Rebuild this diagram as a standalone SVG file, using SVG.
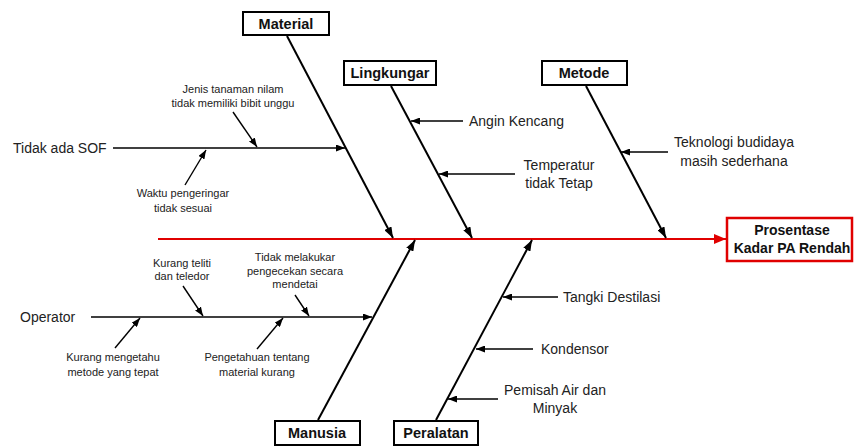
<svg xmlns="http://www.w3.org/2000/svg" width="859" height="446" viewBox="0 0 859 446">
<style>
.box{fill:#fff;stroke:#000;stroke-width:2}
.effect{fill:#fff;stroke:#e00000;stroke-width:2.5}
.bt{font-family:"Liberation Sans",Arial,sans-serif;font-weight:bold;font-size:14px;fill:#111;text-anchor:middle}
.lt{font-size:14.5px}
.mt{font-family:"Liberation Sans",Arial,sans-serif;font-size:14px;fill:#222}
.st{font-family:"Liberation Sans",Arial,sans-serif;font-size:11px;fill:#222;text-anchor:middle}
.bone{stroke:#000;stroke-width:2;fill:none}
.rib{stroke:#000;stroke-width:1.4;fill:none}
.spine{stroke:#e00000;stroke-width:2.2;fill:none}
</style>
<defs>
<marker id="ah" markerUnits="userSpaceOnUse" markerWidth="11" markerHeight="8" refX="11" refY="4" orient="auto">
<path d="M0,0 L11,4 L0,8 z" fill="#000"/>
</marker>
<marker id="ahs" markerUnits="userSpaceOnUse" markerWidth="9" markerHeight="7" refX="9" refY="3.5" orient="auto">
<path d="M0,0 L9,3.5 L0,7 z" fill="#000"/>
</marker>
<marker id="ahr" markerUnits="userSpaceOnUse" markerWidth="12" markerHeight="10" refX="12" refY="5" orient="auto">
<path d="M0,0 L12,5 L0,10 z" fill="#e00000"/>
</marker>
</defs>
<g id="connectors">
<line class="spine" x1="158" y1="239" x2="726" y2="239" marker-end="url(#ahr)"/>
<line class="bone" x1="287" y1="36" x2="393" y2="238" marker-end="url(#ah)"/>
<line class="bone" x1="391" y1="86" x2="472" y2="238" marker-end="url(#ah)"/>
<line class="bone" x1="586" y1="86" x2="666" y2="238" marker-end="url(#ah)"/>
<line class="bone" x1="318" y1="420" x2="415" y2="240" marker-end="url(#ah)"/>
<line class="bone" x1="436" y1="420" x2="532" y2="240" marker-end="url(#ah)"/>
<line class="rib" x1="113" y1="148" x2="345" y2="148" marker-end="url(#ahs)"/>
<line class="rib" x1="233" y1="112" x2="257" y2="147" marker-end="url(#ahs)"/>
<line class="rib" x1="185" y1="185" x2="206" y2="150" marker-end="url(#ahs)"/>
<line class="rib" x1="463" y1="121" x2="411" y2="121" marker-end="url(#ahs)"/>
<line class="rib" x1="515" y1="174" x2="439" y2="174" marker-end="url(#ahs)"/>
<line class="rib" x1="668" y1="152" x2="621" y2="152" marker-end="url(#ahs)"/>
<line class="rib" x1="91" y1="317" x2="372" y2="317" marker-end="url(#ahs)"/>
<line class="rib" x1="183" y1="286" x2="203" y2="316" marker-end="url(#ahs)"/>
<line class="rib" x1="295" y1="295" x2="309" y2="316" marker-end="url(#ahs)"/>
<line class="rib" x1="115" y1="348" x2="140" y2="318" marker-end="url(#ahs)"/>
<line class="rib" x1="257" y1="349" x2="283" y2="318" marker-end="url(#ahs)"/>
<line class="rib" x1="558" y1="297" x2="503" y2="297" marker-end="url(#ahs)"/>
<line class="rib" x1="533" y1="349" x2="476" y2="349" marker-end="url(#ahs)"/>
<line class="rib" x1="498" y1="399" x2="448" y2="399" marker-end="url(#ahs)"/>
</g>
<g id="effect">
<rect class="effect" x="727" y="218" width="125" height="43"/>
<text class="bt" x="792" y="235">Prosentase</text>
<text class="bt" x="792" y="253">Kadar PA Rendah</text>
</g>
<g id="material">
<rect class="box" x="243" y="12" width="86" height="23"/>
<text class="bt lt" x="286" y="28.5">Material</text>
</g>
<g id="lingkungan">
<rect class="box" x="344" y="61" width="92" height="24"/>
<text class="bt lt" x="390" y="78">Lingkungar</text>
</g>
<g id="metode">
<rect class="box" x="542" y="61" width="85" height="24"/>
<text class="bt lt" x="584" y="78">Metode</text>
</g>
<g id="manusia">
<rect class="box" x="275" y="421" width="85" height="24"/>
<text class="bt lt" x="317" y="438">Manusia</text>
</g>
<g id="peralatan">
<rect class="box" x="394" y="421" width="84" height="24"/>
<text class="bt lt" x="436" y="438">Peralatan</text>
</g>
<g id="cause-sof"><text class="mt" x="13" y="153">Tidak ada SOF</text></g>
<g id="cause-jenis">
<text class="st" x="233" y="93">Jenis tanaman nilam</text>
<text class="st" x="233" y="107">tidak memiliki bibit unggu</text>
</g>
<g id="cause-waktu">
<text class="st" x="183" y="197">Waktu pengeringar</text>
<text class="st" x="183" y="212">tidak sesuai</text>
</g>
<g id="cause-angin"><text class="mt" x="469" y="126">Angin Kencang</text></g>
<g id="cause-temperatur">
<text class="mt" x="559" y="170" text-anchor="middle">Temperatur</text>
<text class="mt" x="559" y="188" text-anchor="middle">tidak Tetap</text>
</g>
<g id="cause-teknologi">
<text class="mt" x="734" y="147" text-anchor="middle">Teknologi budidaya</text>
<text class="mt" x="734" y="166" text-anchor="middle">masih sederhana</text>
</g>
<g id="cause-operator"><text class="mt" x="20" y="322">Operator</text></g>
<g id="cause-teliti">
<text class="st" x="182" y="267">Kurang teliti</text>
<text class="st" x="182" y="280">dan teledor</text>
</g>
<g id="cause-pengecekan">
<text class="st" x="295" y="261">Tidak melakukar</text>
<text class="st" x="295" y="275">pengecekan secara</text>
<text class="st" x="295" y="288">mendetai</text>
</g>
<g id="cause-metode">
<text class="st" x="113" y="361">Kurang mengetahu</text>
<text class="st" x="113" y="376">metode yang tepat</text>
</g>
<g id="cause-pengetahuan">
<text class="st" x="257" y="361">Pengetahuan tentang</text>
<text class="st" x="257" y="376">material kurang</text>
</g>
<g id="cause-tangki"><text class="mt" x="563" y="302">Tangki Destilasi</text></g>
<g id="cause-kondensor"><text class="mt" x="541" y="354">Kondensor</text></g>
<g id="cause-pemisah">
<text class="mt" x="555" y="395" text-anchor="middle">Pemisah Air dan</text>
<text class="mt" x="555" y="413" text-anchor="middle">Minyak</text>
</g>
</svg>
